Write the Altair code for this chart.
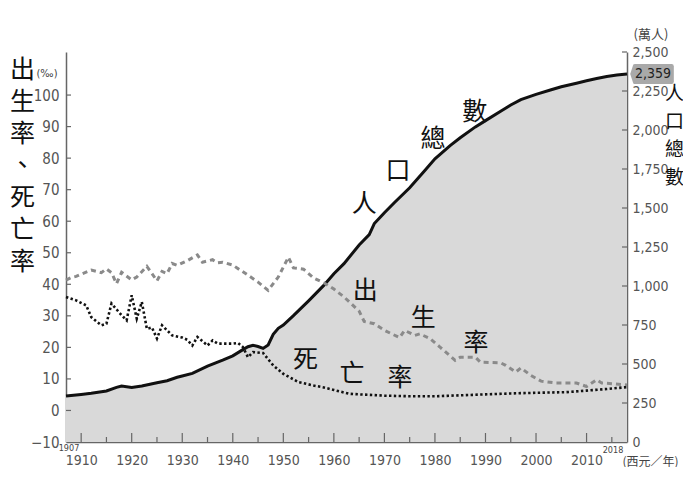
import altair as alt
import pandas as pd

# ---------------- data ----------------
pop_years = [1907, 1910, 1912, 1915, 1917, 1918, 1920, 1922, 1925, 1927, 1929, 1930, 1932,
             1935, 1938, 1940, 1942, 1943, 1944, 1945, 1946, 1947, 1948, 1949, 1950, 1952,
             1955, 1958, 1960, 1962, 1965, 1967, 1968, 1970, 1972, 1975, 1978, 1980, 1983,
             1985, 1988, 1990, 1993, 1995, 1997, 2000, 2003, 2005, 2008, 2010, 2012, 2014,
             2016, 2018]
pop_values = [295, 305, 312, 327, 350, 359, 350, 359, 380, 393, 415, 423, 440,
              487, 525, 552, 592, 611, 620, 612, 600, 622, 690, 729, 750, 810,
              905, 1004, 1079, 1143, 1263, 1330, 1400, 1470, 1535, 1630, 1740, 1815, 1900,
              1950, 2020, 2060, 2120, 2160, 2195, 2228, 2258, 2277, 2300, 2316, 2330, 2343,
              2352, 2359]

birth_years = [1907, 1908, 1909, 1910, 1912, 1914, 1915, 1916, 1917, 1918, 1920, 1921, 1923,
               1925, 1926, 1927, 1928, 1929, 1931, 1933, 1934, 1936, 1937, 1938, 1940, 1941,
               1943, 1945, 1947, 1949, 1951, 1952, 1954, 1956, 1958, 1960, 1962, 1965, 1966,
               1968, 1970, 1973, 1974, 1976, 1977, 1979, 1981, 1984, 1985, 1988, 1989, 1993,
               1994, 1996, 1997, 1999, 2001, 2004, 2008, 2010, 2012, 2013, 2015, 2018]
birth_values = [41.3, 42.1, 42.5, 43.2, 44.5, 43.7, 44.9, 43.7, 40.2, 43.8, 41.4, 42.3, 45.7,
                41.1, 44.1, 43.4, 46.6, 46.0, 47.5, 49.3, 47.0, 47.8, 46.8, 47.0, 46.1, 45.0,
                42.9, 40.7, 38.1, 42.3, 48.6, 45.2, 44.8, 42.0, 40.5, 38.5, 36.0, 31.5, 28.2,
                27.5, 25.4, 23.1, 25.4, 23.8, 24.3, 22.8, 20.1, 15.9, 16.9, 16.9, 15.3, 15.1,
                14.3, 12.2, 13.5, 11.1, 9.3, 8.7, 8.7, 7.6, 9.7, 8.7, 8.5, 8.1]

death_years = [1907, 1909, 1911, 1912, 1914, 1915, 1916, 1918, 1919, 1920, 1921, 1922, 1923,
               1924, 1925, 1926, 1928, 1930, 1931, 1932, 1933, 1935, 1936, 1937, 1940, 1941,
               1942, 1943, 1944, 1946, 1948, 1950, 1953, 1956, 1958, 1960, 1963, 1965, 1970,
               1975, 1980, 1985, 1990, 1995, 2000, 2006, 2010, 2014, 2018]
death_values = [36.0, 34.9, 33.3, 29.6, 27.0, 27.5, 33.9, 30.2, 28.6, 36.5, 29.1, 34.4, 25.9,
                26.3, 22.8, 27.0, 23.8, 23.1, 22.4, 20.6, 23.3, 20.6, 22.2, 21.2, 21.2, 21.4,
                20.1, 16.9, 18.5, 18.2, 14.3, 11.6, 9.0, 7.9, 7.3, 6.5, 5.3, 5.1, 4.7,
                4.5, 4.5, 4.8, 5.1, 5.4, 5.6, 5.8, 6.3, 6.8, 7.4]

label_chars = ["人", "口", "總", "數", "出", "生", "率", "死", "亡", "率"]
label_years = [1966.0, 1972.7, 1979.6, 1987.9, 1966.2, 1977.7, 1988.1, 1954.4, 1963.6, 1973.1]
label_vals = [65.5, 76.0, 86.0, 94.7, 37.8, 29.4, 21.3, 15.9, 11.7, 10.4]

x_label_years = list(range(1910, 2011, 10))
x_minor_years = list(range(1915, 2016, 10))
left_tick_vals = list(range(0, 101, 10))
right_tick_vals = list(range(250, 2501, 250))
first_year = 1907
last_year = 2018
last_pop = 2359

W, H = 561, 390
CJK = "Noto Sans CJK TC"
NUM = "Liberation Sans Narrow, DejaVu Sans Condensed, Liberation Sans, sans-serif"
AX = "#666666"
LBL = "#555555"

xscale = alt.Scale(domain=[1907, 2018], nice=False, zero=False)
lscale = alt.Scale(domain=[-10, 113.65], nice=False, zero=False)
rscale = alt.Scale(domain=[0, 2500], nice=False, zero=False)

xaxis = alt.Axis(values=x_label_years, format="d", ticks=False, tickSize=0, grid=False,
                 domainColor=AX, domainWidth=1.5, labelFont=NUM, labelFontSize=14,
                 labelColor=LBL, labelPadding=11, labelFlush=False,
                 title="(西元／年)", titleFont=CJK, titleFontSize=12, titleFontWeight="normal",
                 titleColor="#444444", titleX=584, titleY=19, titleAlign="center",
                 titleBaseline="middle", titleAnchor="start")
laxis = alt.Axis(orient="left", values=list(range(-10, 101, 10)), format="d", ticks=False,
                 tickSize=0, grid=False, domainColor=AX, domainWidth=1.5, labelFont=NUM,
                 labelFontSize=15, labelColor=LBL, labelPadding=7, labelFlush=False,
                 title=["出", "生", "率", "、", "死", "亡", "率"], titleAngle=0,
                 titleFont=CJK, titleFontSize=25, titleFontWeight="normal", titleColor="#111111",
                 titleLineHeight=32, titleX=-44, titleY=5, titleAlign="center",
                 titleBaseline="top", titleAnchor="start")
raxis = alt.Axis(orient="right", values=list(range(0, 2501, 250)), format=",d", ticks=False,
                 tickSize=0, grid=False, domainColor=AX, domainWidth=1.5, labelFont=NUM,
                 labelFontSize=14, labelColor=LBL, labelPadding=5, labelFlush=False,
                 title=["人", "口", "總", "數"], titleAngle=0, titleFont=CJK, titleFontSize=19,
                 titleFontWeight="normal", titleColor="#111111", titleLineHeight=28,
                 titleX=47, titleY=32, titleAlign="center", titleBaseline="top",
                 titleAnchor="start")

X = alt.X("year:Q", scale=xscale, axis=xaxis)
YL = alt.Y("val:Q", scale=lscale, axis=laxis)
YR = alt.Y("pop:Q", scale=rscale, axis=raxis)

pop_df = pd.DataFrame({"year": pop_years, "pop": pop_values})
birth_df = pd.DataFrame({"year": birth_years, "val": birth_values})
death_df = pd.DataFrame({"year": death_years, "val": death_values})
lab_df = pd.DataFrame({"year": label_years, "val": label_vals, "label": label_chars})
last_df = pd.DataFrame({"year": [last_year], "pop": [last_pop], "txt": [f"{last_pop:,}"]})
unit_r_df = pd.DataFrame({"year": [last_year], "pop": [2500], "txt": ["(萬人)"]})
unit_l_df = pd.DataFrame({"year": [first_year], "val": [100], "txt": ["(‰)"]})
start_df = pd.DataFrame({"year": [first_year], "val": [-10], "txt": [str(first_year)]})
end_df = pd.DataFrame({"year": [last_year], "val": [-10], "txt": [str(last_year)]})
xmaj_df = pd.DataFrame({"year": x_label_years})
xmin_df = pd.DataFrame({"year": x_minor_years})
lt_df = pd.DataFrame({"val": left_tick_vals})
rt_df = pd.DataFrame({"pop": right_tick_vals})

# ---------------- right-scale group ----------------
area = alt.Chart(pop_df).mark_area(color="#d9d9d9", opacity=1).encode(x=X, y=YR)
pop_line = alt.Chart(pop_df).mark_line(color="#111111", strokeWidth=3).encode(x=X, y=YR)
pill_path = ("M-1,0 L-0.86,-0.42 Q-0.84,-0.46 -0.78,-0.46 L0.9,-0.46 Q1,-0.46 1,-0.36 "
             "L1,0.36 Q1,0.46 0.9,0.46 L-0.78,0.46 Q-0.84,0.46 -0.86,0.42 Z")
pill = alt.Chart(last_df).mark_point(shape=pill_path, filled=True, color="#a9a9a9", opacity=1,
                                     size=1900, xOffset=25, strokeWidth=0).encode(x=X, y=YR)
pill_txt = alt.Chart(last_df).mark_text(font=NUM, fontSize=14, color="#222222", dx=26,
                                        dy=0, baseline="middle").encode(x=X, y=YR, text="txt:N")
unit_r = alt.Chart(unit_r_df).mark_text(font=CJK, fontSize=13, color="#444444", dx=24, dy=-17,
                                        baseline="middle").encode(x=X, y=YR, text="txt:N")
r_ticks = alt.Chart(rt_df).mark_rule(color=AX, strokeWidth=1.2).encode(
    x=alt.value(W), x2=alt.value(W - 5), y=YR)

right_group = alt.layer(area, pop_line, r_ticks, pill, pill_txt, unit_r)

# ---------------- left-scale group ----------------
birth = alt.Chart(birth_df).mark_line(color="#8a8a8a", strokeWidth=3, strokeDash=[5, 4]).encode(
    x=X, y=YL)
death = alt.Chart(death_df).mark_line(color="#111111", strokeWidth=2.6, strokeDash=[2.4, 2.4]).encode(
    x=X, y=YL)
labels = alt.Chart(lab_df).mark_text(font=CJK, fontSize=25, color="#111111",
                                     baseline="middle").encode(x=X, y=YL, text="label:N")
unit_l = alt.Chart(unit_l_df).mark_text(font=NUM, fontSize=11, color="#444444", dx=-19, dy=-21,
                                        baseline="middle").encode(x=X, y=YL, text="txt:N")
start_lbl = alt.Chart(start_df).mark_text(font=NUM, fontSize=9, color="#444444", dx=3, dy=6,
                                          baseline="middle").encode(x=X, y=YL, text="txt:N")
end_lbl = alt.Chart(end_df).mark_text(font=NUM, fontSize=9, color="#444444", dx=-14, dy=8,
                                      baseline="middle").encode(x=X, y=YL, text="txt:N")
l_ticks = alt.Chart(lt_df).mark_rule(color=AX, strokeWidth=1.2).encode(
    x=alt.value(0), x2=alt.value(5), y=YL)
x_major = alt.Chart(xmaj_df).mark_rule(color=AX, strokeWidth=1.2).encode(
    x=X, y=alt.value(H), y2=alt.value(H - 9))
x_minor = alt.Chart(xmin_df).mark_rule(color=AX, strokeWidth=1.2).encode(
    x=X, y=alt.value(H), y2=alt.value(H - 5))

left_group = alt.layer(birth, death, labels, unit_l, start_lbl, end_lbl, l_ticks, x_major, x_minor)

chart = alt.layer(right_group, left_group).resolve_scale(y="independent").properties(
    width=W, height=H,
    autosize=alt.AutoSizeParams(type="none"),
    padding={"left": 58, "top": 44, "right": 56, "bottom": 25},
    background="white",
).configure_view(strokeWidth=0)

chart.save("out.html", embed_options={"renderer": "svg", "actions": False})
